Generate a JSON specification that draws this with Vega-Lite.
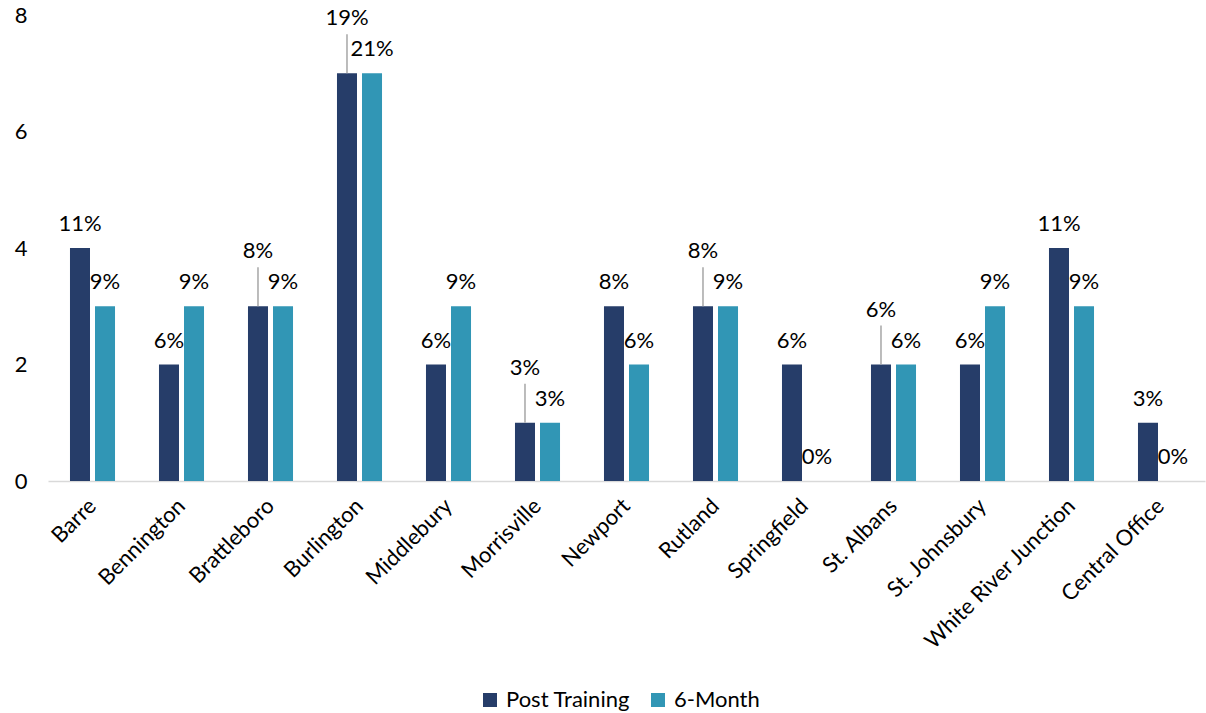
{
  "$schema": "https://vega.github.io/schema/vega-lite/v6.json",
  "autosize": {"type": "none"},
  "padding": {"left": 48, "top": 15, "right": 1, "bottom": 232},
  "width": 1157,
  "height": 466,
  "config": {
    "font": "Lato",
    "view": {"stroke": null},
    "text": {"font": "Lato"}
  },
  "data": {
    "values": [
      {"site": "Barre", "series": "Post Training", "value": 4, "pct": "11%"},
      {"site": "Barre", "series": "6-Month", "value": 3, "pct": "9%"},
      {"site": "Bennington", "series": "Post Training", "value": 2, "pct": "6%"},
      {"site": "Bennington", "series": "6-Month", "value": 3, "pct": "9%"},
      {"site": "Brattleboro", "series": "Post Training", "value": 3, "pct": "8%"},
      {"site": "Brattleboro", "series": "6-Month", "value": 3, "pct": "9%"},
      {"site": "Burlington", "series": "Post Training", "value": 7, "pct": "19%"},
      {"site": "Burlington", "series": "6-Month", "value": 7, "pct": "21%"},
      {"site": "Middlebury", "series": "Post Training", "value": 2, "pct": "6%"},
      {"site": "Middlebury", "series": "6-Month", "value": 3, "pct": "9%"},
      {"site": "Morrisville", "series": "Post Training", "value": 1, "pct": "3%"},
      {"site": "Morrisville", "series": "6-Month", "value": 1, "pct": "3%"},
      {"site": "Newport", "series": "Post Training", "value": 3, "pct": "8%"},
      {"site": "Newport", "series": "6-Month", "value": 2, "pct": "6%"},
      {"site": "Rutland", "series": "Post Training", "value": 3, "pct": "8%"},
      {"site": "Rutland", "series": "6-Month", "value": 3, "pct": "9%"},
      {"site": "Springfield", "series": "Post Training", "value": 2, "pct": "6%"},
      {"site": "Springfield", "series": "6-Month", "value": 0, "pct": "0%"},
      {"site": "St. Albans", "series": "Post Training", "value": 2, "pct": "6%"},
      {"site": "St. Albans", "series": "6-Month", "value": 2, "pct": "6%"},
      {"site": "St. Johnsbury", "series": "Post Training", "value": 2, "pct": "6%"},
      {"site": "St. Johnsbury", "series": "6-Month", "value": 3, "pct": "9%"},
      {"site": "White River Junction", "series": "Post Training", "value": 4, "pct": "11%"},
      {"site": "White River Junction", "series": "6-Month", "value": 3, "pct": "9%"},
      {"site": "Central Office", "series": "Post Training", "value": 1, "pct": "3%"},
      {"site": "Central Office", "series": "6-Month", "value": 0, "pct": "0%"}
    ]
  },
  "transform": [
    {"joinaggregate": [{"op": "min", "field": "value", "as": "mn"}, {"op": "max", "field": "value", "as": "mx"}], "groupby": ["site"]}
  ],
  "encoding": {
    "x": {
      "field": "site",
      "type": "nominal",
      "sort": null,
      "scale": {"paddingInner": 0.494, "paddingOuter": 0.247},
      "axis": {
        "title": null,
        "domain": true,
        "domainColor": "#D9D9D9",
        "domainWidth": 1.5,
        "ticks": false,
        "tickSize": 0,
        "labelAngle": -45,
        "labelAlign": "right",
        "labelBaseline": "middle",
        "labelPadding": 21,
        "labelFontSize": 22,
        "labelLimit": 400,
        "labelColor": "#000000",
        "labelFont": "Lato"
      }
    },
    "xOffset": {
      "field": "series",
      "type": "nominal",
      "sort": ["Post Training", "6-Month"],
      "scale": {"paddingInner": 0.2, "paddingOuter": 0}
    },
    "y": {
      "field": "value",
      "type": "quantitative",
      "scale": {"domain": [0, 8], "nice": false},
      "axis": {
        "title": null,
        "domain": false,
        "ticks": false,
        "tickSize": 0,
        "grid": false,
        "values": [0, 2, 4, 6, 8],
        "labelFontSize": 22,
        "labelColor": "#000000",
        "labelPadding": 21,
        "labelFont": "Lato"
      }
    }
  },
  "layer": [
    {
      "mark": {"type": "bar"},
      "encoding": {
        "color": {
          "field": "series",
          "type": "nominal",
          "scale": {"domain": ["Post Training", "6-Month"], "range": ["#263D69", "#3196B5"]},
          "legend": {
            "title": null,
            "orient": "none",
            "direction": "horizontal",
            "legendX": 431,
            "legendY": 674,
            "symbolType": "square",
            "symbolSize": 196,
            "symbolStrokeWidth": 0,
            "labelFontSize": 22,
            "labelColor": "#000000",
            "labelFont": "Lato",
            "labelOffset": 5,
            "columnPadding": 16
          }
        }
      }
    },
    {
      "transform": [{"filter": "!(datum.series === 'Post Training' && datum.mn === datum.mx)"}],
      "mark": {"type": "text", "baseline": "alphabetic", "align": "center", "dy": -17, "fontSize": 22, "color": "#000000"},
      "encoding": {"text": {"field": "pct", "type": "nominal"}}
    },
    {
      "transform": [{"filter": "datum.series === 'Post Training' && datum.mn === datum.mx"}],
      "mark": {"type": "text", "baseline": "alphabetic", "align": "center", "dy": -48, "fontSize": 22, "color": "#000000"},
      "encoding": {"text": {"field": "pct", "type": "nominal"}}
    },
    {
      "transform": [{"filter": "datum.series === 'Post Training' && datum.mn === datum.mx"}],
      "mark": {"type": "rule", "color": "#A6A6A6", "strokeWidth": 1.5, "y2Offset": -39},
      "encoding": {"y2": {"field": "value"}}
    }
  ]
}
